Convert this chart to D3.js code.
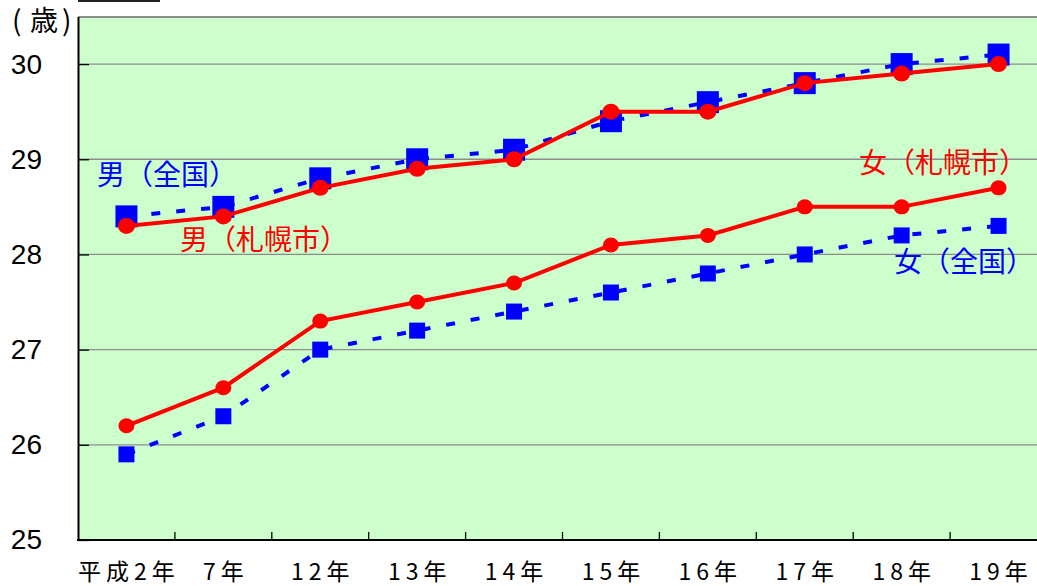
<!DOCTYPE html>
<html>
<head>
<meta charset="utf-8">
<script src="https://cdn.jsdelivr.net/npm/d3@7"></script>
<style>
  html, body { margin: 0; padding: 0; background: #fff; }
  svg { display: block; }
</style>
</head>
<body>
<svg id="chart" width="1037" height="586"></svg>
<script>
// Average age at first marriage: Sapporo vs. national, by sex
const years = ["平成2年", "7年", "12年", "13年", "14年", "15年", "16年", "17年", "18年", "19年"];
const maleNational   = [28.4, 28.5, 28.8, 29.0, 29.1, 29.4, 29.6, 29.8, 30.0, 30.1];
const maleSapporo    = [28.3, 28.4, 28.7, 28.9, 29.0, 29.5, 29.5, 29.8, 29.9, 30.0];
const femaleSapporo  = [26.2, 26.6, 27.3, 27.5, 27.7, 28.1, 28.2, 28.5, 28.5, 28.7];
const femaleNational = [25.9, 26.3, 27.0, 27.2, 27.4, 27.6, 27.8, 28.0, 28.2, 28.3];
const yTicks = [25, 26, 27, 28, 29, 30];

const svg = d3.select("#chart");
const plotLeft = 78, plotTop = 17, plotBottom = 540, step = 96.9;

const x = d3.scaleBand().domain(years).range([plotLeft, plotLeft + step * years.length]).padding(0);
const y = d3.scaleLinear().domain([25, 30.5]).range([plotBottom, plotTop - 0.5]);
const cx = d => x(d) + x.bandwidth() / 2;

const cjk = "'Noto Sans CJK JP', 'Noto Sans CJK SC', sans-serif";

// small dark bar above plot
svg.append("rect").attr("x", 78).attr("y", 0).attr("width", 82).attr("height", 2).attr("fill", "#222");

// plot background
svg.append("rect")
  .attr("x", plotLeft).attr("y", plotTop)
  .attr("width", 1037 - plotLeft).attr("height", plotBottom - plotTop)
  .attr("fill", "#ccffcc");

// horizontal gridlines
svg.append("g").selectAll("line")
  .data(yTicks.filter(t => t > 25))
  .join("line")
  .attr("x1", plotLeft).attr("x2", 1037)
  .attr("y1", d => y(d)).attr("y2", d => y(d))
  .attr("stroke", "#8c8c8c").attr("stroke-width", 1.3);

// top border
svg.append("line").attr("x1", plotLeft).attr("x2", 1037).attr("y1", plotTop).attr("y2", plotTop)
  .attr("stroke", "#8c8c8c").attr("stroke-width", 2);

// y axis
const yAxis = svg.append("g")
  .attr("transform", `translate(${plotLeft},0)`)
  .call(d3.axisLeft(y).tickValues(yTicks).tickFormat(d3.format("d"))
    .tickSizeInner(-11).tickSizeOuter(0).tickPadding(36));
yAxis.select(".domain").attr("stroke", "#000").attr("stroke-width", 2);
yAxis.selectAll(".tick line").attr("stroke", "#000").attr("stroke-width", 1.3);
yAxis.selectAll(".tick text")
  .attr("font-family", "'Liberation Sans', Arial, sans-serif")
  .attr("font-size", 28).attr("fill", "#000");

// x axis labels
const xAxis = svg.append("g")
  .attr("transform", `translate(0,${plotBottom})`)
  .call(d3.axisBottom(x).tickSize(0).tickPadding(24));
xAxis.select(".domain").remove();
xAxis.selectAll(".tick text")
  .attr("font-family", cjk)
  .attr("font-size", 23)
  .attr("letter-spacing", 5)
  .attr("dx", 2.5)
  .attr("fill", "#000");

// x tick marks at category boundaries
svg.append("g").selectAll("line")
  .data(years.slice(1))
  .join("line")
  .attr("x1", d => x(d)).attr("x2", d => x(d))
  .attr("y1", plotBottom).attr("y2", plotBottom - 8)
  .attr("stroke", "#000").attr("stroke-width", 1.3);

// bottom axis line
svg.append("line").attr("x1", plotLeft - 1).attr("x2", 1037).attr("y1", plotBottom).attr("y2", plotBottom)
  .attr("stroke", "#000").attr("stroke-width", 2);

// unit label
const unit = svg.append("text")
  .attr("y", 31).attr("font-family", cjk).attr("font-size", 28).attr("fill", "#000");
unit.append("tspan").attr("x", 12).text("(");
unit.append("tspan").attr("x", 30).text("歳");
unit.append("tspan").attr("x", 62).text(")");

const line = d3.line().x((d, i) => cx(years[i])).y(d => y(d));

function dashedSeries(values, size) {
  svg.append("path").datum(values)
    .attr("d", line).attr("fill", "none")
    .attr("stroke", "#0000ff").attr("stroke-width", 4)
    .attr("stroke-dasharray", "9,16");
  svg.append("g").selectAll("rect").data(values).join("rect")
    .attr("x", (d, i) => cx(years[i]) - size / 2)
    .attr("y", d => y(d) - size / 2)
    .attr("width", size).attr("height", size)
    .attr("fill", "#0000ff");
}

function solidSeries(values, r) {
  svg.append("path").datum(values)
    .attr("d", line).attr("fill", "none")
    .attr("stroke", "#ff0000").attr("stroke-width", 4);
  svg.append("g").selectAll("ellipse").data(values).join("ellipse")
    .attr("cx", (d, i) => cx(years[i]))
    .attr("cy", d => y(d))
    .attr("rx", r).attr("ry", r - 0.5)
    .attr("fill", "#ff0000");
}

dashedSeries(maleNational, 22);
solidSeries(maleSapporo, 8.5);
dashedSeries(femaleNational, 16);
solidSeries(femaleSapporo, 8);

// series labels
const labels = [
  { text: "男（全国）",   x: 97,  y: 185, color: "#0000ff" },
  { text: "男（札幌市）", x: 180, y: 250, color: "#ff0000" },
  { text: "女（札幌市）", x: 859, y: 173, color: "#ff0000" },
  { text: "女（全国）",   x: 894, y: 272, color: "#0000ff" }
];
svg.append("g").selectAll("text").data(labels).join("text")
  .attr("x", d => d.x).attr("y", d => d.y)
  .attr("font-family", cjk).attr("font-size", 28)
  .attr("fill", d => d.color)
  .text(d => d.text);
</script>
</body>
</html>
